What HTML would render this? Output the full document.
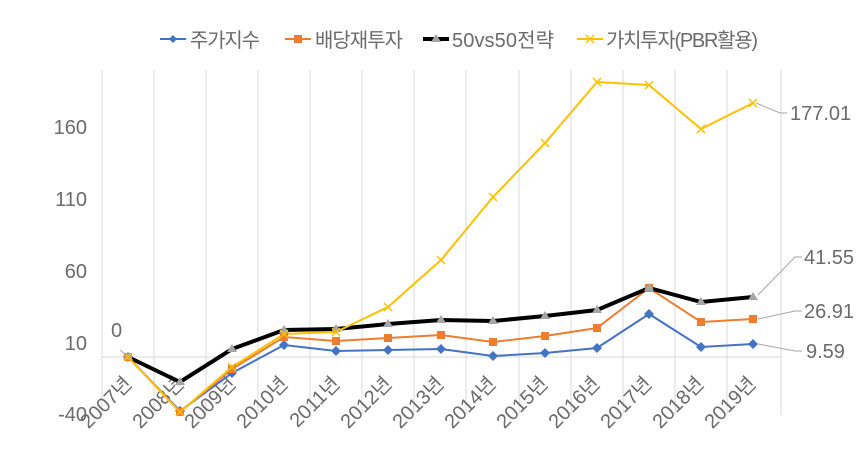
<!DOCTYPE html>
<html><head><meta charset="utf-8"><style>
body{margin:0;background:#fff}
text{font-family:"Liberation Sans","Noto Sans CJK KR",sans-serif;fill:#6b6b6b}
</style></head><body>
<svg width="865" height="447" xmlns="http://www.w3.org/2000/svg">
<g stroke="#d9d9d9" stroke-width="1">
<line x1="102" y1="70" x2="102" y2="415"/><line x1="154" y1="70" x2="154" y2="415"/><line x1="206" y1="70" x2="206" y2="415"/><line x1="258" y1="70" x2="258" y2="415"/><line x1="310" y1="70" x2="310" y2="415"/><line x1="362" y1="70" x2="362" y2="415"/><line x1="414" y1="70" x2="414" y2="415"/><line x1="466" y1="70" x2="466" y2="415"/><line x1="519" y1="70" x2="519" y2="415"/><line x1="571" y1="70" x2="571" y2="415"/><line x1="623" y1="70" x2="623" y2="415"/><line x1="675" y1="70" x2="675" y2="415"/><line x1="727" y1="70" x2="727" y2="415"/><line x1="781" y1="70" x2="781" y2="415"/>
<line x1="102" y1="357" x2="781" y2="357"/>
</g>
<g font-size="20" text-anchor="end">
<text x="87" y="134">160</text><text x="87" y="206">110</text><text x="87" y="278">60</text><text x="87" y="350">10</text><text x="87" y="421">-40</text>
</g>
<g font-size="20" text-anchor="end">
<text transform="translate(133,385) rotate(-45)">2007년</text>
<text transform="translate(185,385) rotate(-45)">2008년</text>
<text transform="translate(237,385) rotate(-45)">2009년</text>
<text transform="translate(289,385) rotate(-45)">2010년</text>
<text transform="translate(341,385) rotate(-45)">2011년</text>
<text transform="translate(393,385) rotate(-45)">2012년</text>
<text transform="translate(445,385) rotate(-45)">2013년</text>
<text transform="translate(497,385) rotate(-45)">2014년</text>
<text transform="translate(549,385) rotate(-45)">2015년</text>
<text transform="translate(601,385) rotate(-45)">2016년</text>
<text transform="translate(653,385) rotate(-45)">2017년</text>
<text transform="translate(705,385) rotate(-45)">2018년</text>
<text transform="translate(757,385) rotate(-45)">2019년</text>
</g>
<polyline fill="none" stroke="#4472c4" stroke-width="2" points="128,357 180,411 232,373 284,345 336,351 388,350 441,349 493,356 545,353 597,348 649,314 701,347 753,344"/>
<polyline fill="none" stroke="#ed7d31" stroke-width="2" points="128,357 180,412 232,369 284,337 336,341 388,338 441,335 493,342 545,336 597,328 649,288 701,322 753,319"/>
<polyline fill="none" stroke="#000" stroke-width="4" points="128,357 180,382 232,349 284,330 336,329 388,324 441,320 493,321 545,316 597,310 649,288 701,302 753,297"/>
<polyline fill="none" stroke="#ffc000" stroke-width="2" points="128,357 180,412 232,367 284,334 336,332 388,307 441,260 493,197 545,143 597,82 649,85 701,129 753,103"/>
<g fill="#4472c4">
<path d="M128,352l5,5-5,5-5-5z"/><path d="M180,406l5,5-5,5-5-5z"/><path d="M232,368l5,5-5,5-5-5z"/><path d="M284,340l5,5-5,5-5-5z"/><path d="M336,346l5,5-5,5-5-5z"/><path d="M388,345l5,5-5,5-5-5z"/><path d="M441,344l5,5-5,5-5-5z"/><path d="M493,351l5,5-5,5-5-5z"/><path d="M545,348l5,5-5,5-5-5z"/><path d="M597,343l5,5-5,5-5-5z"/><path d="M649,309l5,5-5,5-5-5z"/><path d="M701,342l5,5-5,5-5-5z"/><path d="M753,339l5,5-5,5-5-5z"/>
</g>
<g fill="#ed7d31">
<rect x="124" y="353" width="8" height="8"/><rect x="176" y="408" width="8" height="8"/><rect x="228" y="365" width="8" height="8"/><rect x="280" y="333" width="8" height="8"/><rect x="332" y="337" width="8" height="8"/><rect x="384" y="334" width="8" height="8"/><rect x="437" y="331" width="8" height="8"/><rect x="489" y="338" width="8" height="8"/><rect x="541" y="332" width="8" height="8"/><rect x="593" y="324" width="8" height="8"/><rect x="645" y="284" width="8" height="8"/><rect x="697" y="318" width="8" height="8"/><rect x="749" y="315" width="8" height="8"/>
</g>
<g fill="#a5a5a5">
<path d="M128,352l5,8h-10z"/><path d="M180,377l5,8h-10z"/><path d="M232,344l5,8h-10z"/><path d="M284,325l5,8h-10z"/><path d="M336,324l5,8h-10z"/><path d="M388,319l5,8h-10z"/><path d="M441,315l5,8h-10z"/><path d="M493,316l5,8h-10z"/><path d="M545,311l5,8h-10z"/><path d="M597,305l5,8h-10z"/><path d="M649,283l5,8h-10z"/><path d="M701,297l5,8h-10z"/><path d="M753,292l5,8h-10z"/>
</g>
<g stroke="#ffc000" stroke-width="1.5">
<path d="M124,353l8,8M132,353l-8,8"/><path d="M176,408l8,8M184,408l-8,8"/><path d="M228,363l8,8M236,363l-8,8"/><path d="M280,330l8,8M288,330l-8,8"/><path d="M332,328l8,8M340,328l-8,8"/><path d="M384,303l8,8M392,303l-8,8"/><path d="M437,256l8,8M445,256l-8,8"/><path d="M489,193l8,8M497,193l-8,8"/><path d="M541,139l8,8M549,139l-8,8"/><path d="M593,78l8,8M601,78l-8,8"/><path d="M645,81l8,8M653,81l-8,8"/><path d="M697,125l8,8M705,125l-8,8"/><path d="M749,99l8,8M757,99l-8,8"/>
</g>
<g stroke="#a6a6a6" stroke-width="1" fill="none">
<path d="M756,103L780,113H787"/><path d="M758,295L795,257H802"/><path d="M758,319L795,311H802"/><path d="M758,344L795,351H802"/><path d="M120,350L126,355"/>
</g>
<g font-size="20">
<text x="790" y="120">177.01</text><text x="804" y="264">41.55</text><text x="804" y="318">26.91</text><text x="806" y="358">9.59</text><text x="111" y="337">0</text>
</g>
<g font-size="20">
<line x1="160" y1="39" x2="186" y2="39" stroke="#4472c4" stroke-width="2"/><path d="M173,35l4,4-4,4-4-4z" fill="#4472c4"/><text x="190" y="47" textLength="70">주가지수</text>
<line x1="285" y1="39" x2="311" y2="39" stroke="#ed7d31" stroke-width="2"/><rect x="294" y="35" width="8" height="8" fill="#ed7d31"/><text x="315" y="47" textLength="88">배당재투자</text>
<line x1="423" y1="39" x2="449" y2="39" stroke="#000" stroke-width="4"/><path d="M436,34l5,8h-10z" fill="#a5a5a5"/><text x="452" y="47" textLength="102">50vs50전략</text>
<line x1="577" y1="39" x2="603" y2="39" stroke="#ffc000" stroke-width="2"/><path d="M586,35l8,8M594,35l-8,8" stroke="#ffc000" stroke-width="1.5"/><text x="606" y="47" textLength="152">가치투자(PBR활용)</text>
</g>
</svg>
</body></html>
